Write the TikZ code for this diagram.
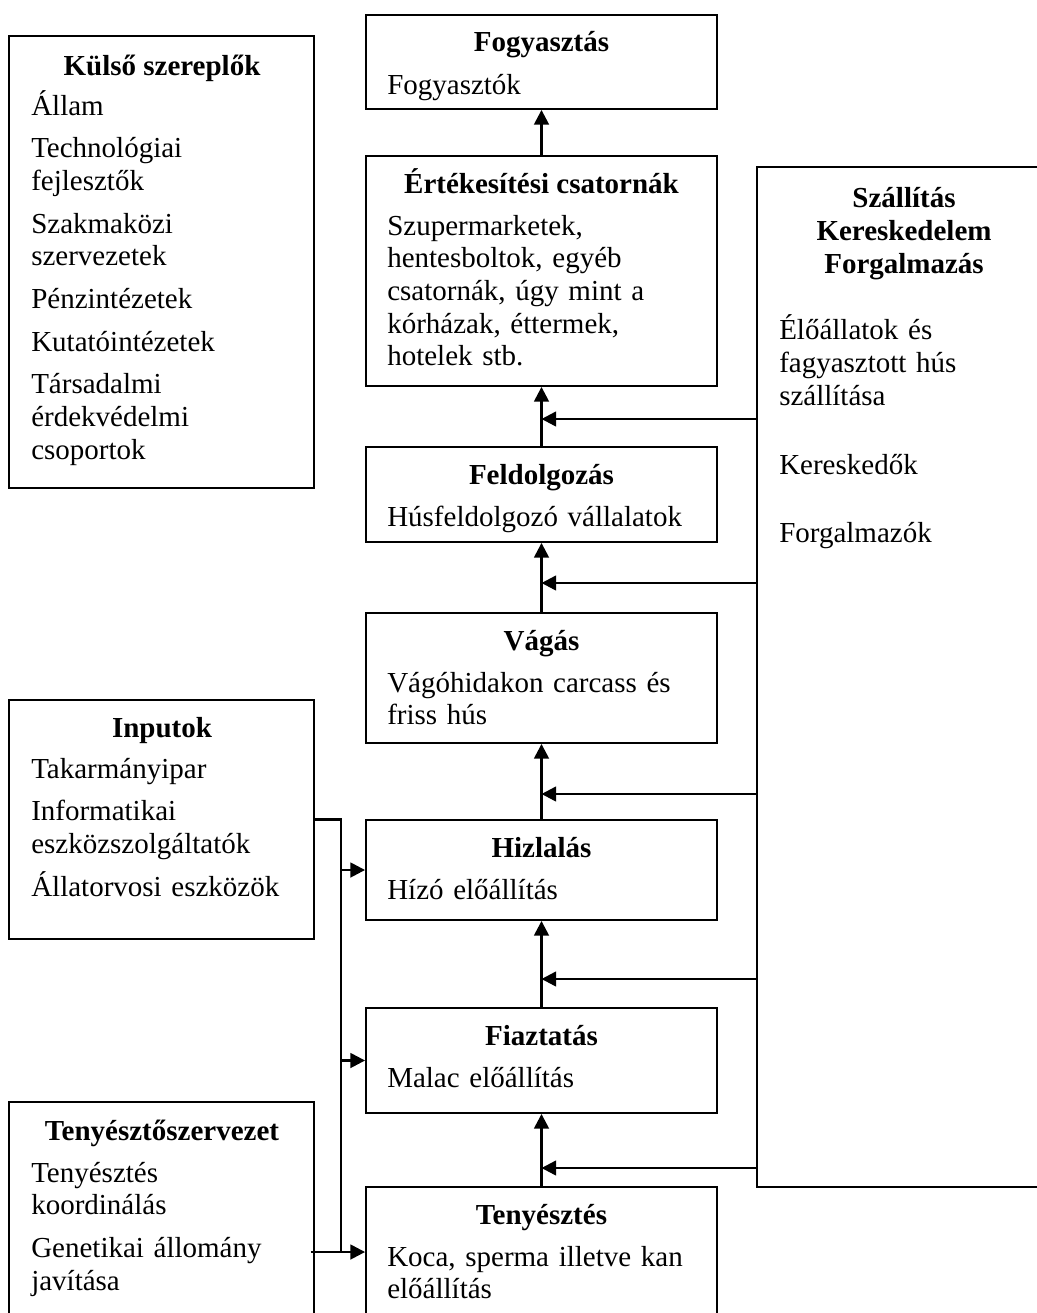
\documentclass[tikz,border=0pt]{standalone}
\usepackage{fontspec}
\setmainfont{Liberation Serif}
\usetikzlibrary{arrows.meta,fit,calc}
\begin{document}
\begin{tikzpicture}[
  x=0.75pt, y=-0.75pt,
  box/.style={draw, line width=1.4pt, inner sep=0pt, rectangle},
  headtext/.style={font=\bfseries\fontsize{21.75}{24.75}\selectfont, anchor=base, inner sep=0pt},
  bodytext/.style={font=\fontsize{21.75}{24.5}\selectfont, anchor=base west, inner sep=0pt, text width=#1, align=left},
  flow/.style={line width=1.9pt, -{Triangle[length=11pt,width=11pt]}},
  bus/.style={line width=1.9pt}
]
\clip (0,0) rectangle (1037,1313);

% --- value chain (centre column) ---
\node[box, fit={(366,15)(717,109)}] (fogy) {};
\node[headtext] (fogyT) at (541.5,52) {Fogyasztás};
\node[bodytext=250pt] (fogyB) at (387,94) {Fogyasztók};

\node[box, fit={(366,156)(717,386)}] (ert) {};
\node[headtext] (ertT) at (541.5,193) {Értékesítési csatornák};
\node[bodytext=250pt] (ertB) at (387,235) {Szupermarketek,\\ hentesboltok, egyéb\\ csatornák, úgy mint a\\ kórházak, éttermek,\\ hotelek stb.};

\node[box, fit={(366,447)(717,542)}] (fel) {};
\node[headtext] (felT) at (541.5,484) {Feldolgozás};
\node[bodytext=250pt] (felB) at (387,526) {Húsfeldolgozó vállalatok};

\node[box, fit={(366,613)(717,743)}] (vag) {};
\node[headtext] (vagT) at (541.5,650) {Vágás};
\node[bodytext=250pt] (vagB) at (387,692) {Vágóhidakon carcass és\\ friss hús};

\node[box, fit={(366,820)(717,920)}] (hiz) {};
\node[headtext] (hizT) at (541.5,857) {Hizlalás};
\node[bodytext=250pt] (hizB) at (387,899) {Hízó előállítás};

\node[box, fit={(366,1008)(717,1113)}] (fia) {};
\node[headtext] (fiaT) at (541.5,1045) {Fiaztatás};
\node[bodytext=250pt] (fiaB) at (387,1087) {Malac előállítás};

\node[box, fit={(366,1187)(717,1317)}] (ten) {};
\node[headtext] (tenT) at (541.5,1224) {Tenyésztés};
\node[bodytext=250pt] (tenB) at (387,1266) {Koca, sperma illetve kan\\ előállítás};

% --- left column ---
\node[box, fit={(9,36)(314,488)}] (kul) {};
\node[headtext] (kulT) at (162,75) {Külső szereplők};
\node[bodytext=210pt] (kulB) at (31,115) {Állam\\[7.5pt] Technológiai\\ fejlesztők\\[7.5pt] Szakmaközi\\ szervezetek\\[7.5pt] Pénzintézetek\\[7.5pt] Kutatóintézetek\\[7.5pt] Társadalmi\\ érdekvédelmi\\ csoportok};

\node[box, fit={(9,700)(314,939)}] (inp) {};
\node[headtext] (inpT) at (162,737) {Inputok};
\node[bodytext=210pt] (inpB) at (31,778) {Takarmányipar\\[7.5pt] Informatikai\\ eszközszolgáltatók\\[7.5pt] Állatorvosi eszközök};

\node[box, fit={(9,1102)(314,1330)}] (tsz) {};
\node[headtext] (tszT) at (162,1140) {Tenyésztőszervezet};
\node[bodytext=210pt] (tszB) at (31,1182) {Tenyésztés\\ koordinálás\\[7.5pt] Genetikai állomány\\ javítása};

% --- transport / trade column ---
\node[box, fit={(757,167)(1051,1187)}] (szal) {};
\node[headtext, text width=210pt, align=center] (szalT) at (904,207) {Szállítás\\ Kereskedelem\\ Forgalmazás};
\node[bodytext=180pt, font=\fontsize{21.75}{25.1}\selectfont] (szalB) at (779,339) {Élőállatok és\\ fagyasztott hús\\ szállítása\\[26pt] Kereskedők\\[26pt] Forgalmazók};

% --- flow upwards along the chain ---
\draw[flow] (ert.north) -- (fogy.south);
\draw[flow] (fel.north) -- (ert.south);
\draw[flow] (vag.north) -- (fel.south);
\draw[flow] (hiz.north) -- (vag.south);
\draw[flow] (fia.north) -- (hiz.south);
\draw[flow] (ten.north) -- (fia.south);

% --- feeds from transport / trade ---
\coordinate (j1) at (541.5,419);
\coordinate (j2) at (541.5,583);
\coordinate (j3) at (541.5,794);
\coordinate (j4) at (541.5,979);
\coordinate (j5) at (541.5,1168);
\foreach \j in {j1,j2,j3,j4,j5}
  \draw[flow] (szal.west |- \j) -- (\j);

% --- inputs and breeding organisation ---
\coordinate (bt) at (341,819.5);
\coordinate (bb) at (341,1252);
\draw[bus] (inp.east) -- (bt) -- (bb);
\draw[flow] (bt |- hiz.west) -- (hiz.west);
\draw[flow] (bt |- fia.west) -- (fia.west);
\draw[flow] ($(tsz.east |- ten.west)+(-4,0)$) -- (ten.west);
\end{tikzpicture}
\end{document}
